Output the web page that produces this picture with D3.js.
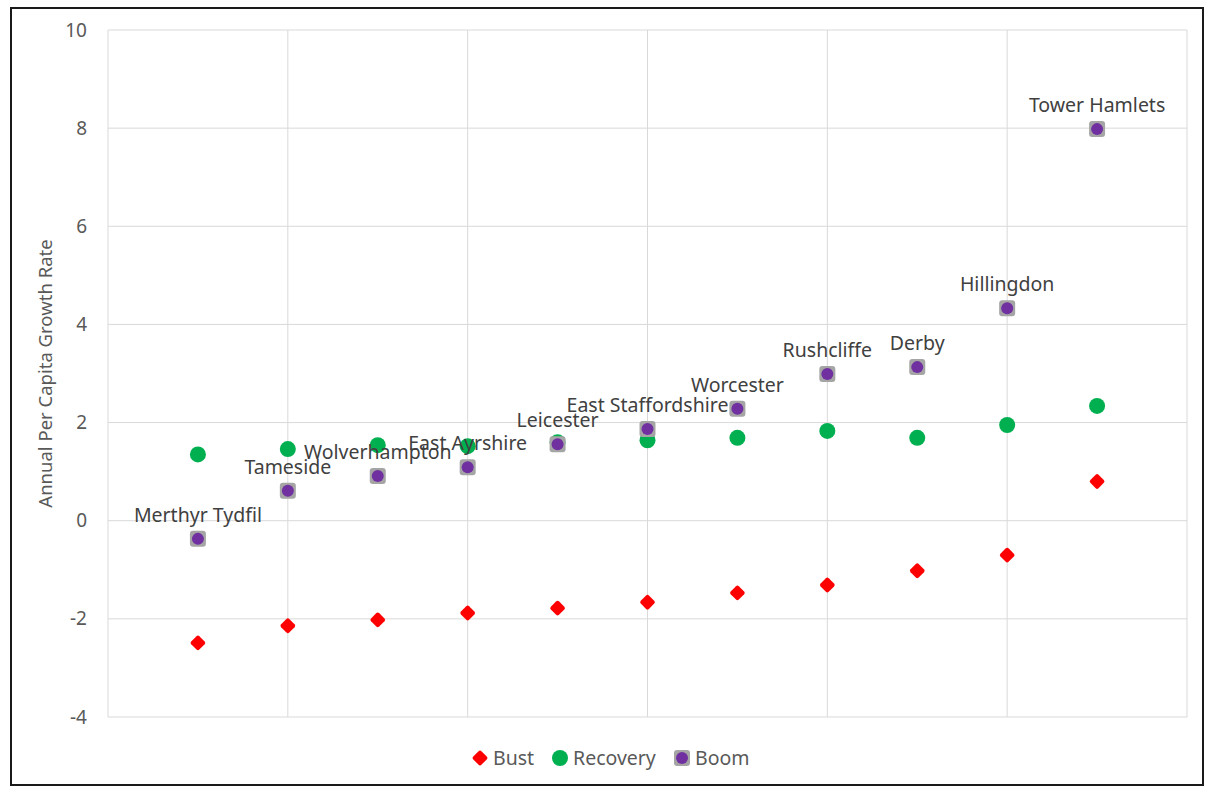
<!DOCTYPE html>
<html>
<head>
<meta charset="utf-8">
<script src="https://cdn.jsdelivr.net/npm/d3@7"></script>
<style>
  html, body { margin: 0; padding: 0; background: #fff; }
  svg { display: block; }
  text { font-family: "Noto Sans", "Open Sans", sans-serif; }
</style>
</head>
<body>
<svg id="chart" width="1208" height="787"></svg>
<script>
// Local authorities, ordered by Boom-period growth
const areas = ["Merthyr Tydfil", "Tameside", "Wolverhampton", "East Ayrshire", "Leicester",
  "East Staffordshire", "Worcester", "Rushcliffe", "Derby", "Hillingdon", "Tower Hamlets"];
const bust = [-2.49, -2.14, -2.02, -1.88, -1.78, -1.66, -1.47, -1.31, -1.02, -0.70, 0.80];
const recovery = [1.35, 1.46, 1.54, 1.52, 1.60, 1.64, 1.69, 1.83, 1.69, 1.95, 2.34];
const boom = [-0.37, 0.61, 0.91, 1.09, 1.56, 1.87, 2.28, 2.99, 3.13, 4.33, 7.98];
const yTicks = [-4, -2, 0, 2, 4, 6, 8, 10];
const xGrid = [0, 2, 4, 6, 8, 10, 12];
const seriesNames = ["Bust", "Recovery", "Boom"];

const svg = d3.select("#chart");

// outer frame
svg.append("rect").attr("x", 11).attr("y", 8).attr("width", 1192).attr("height", 777)
  .attr("fill", "#fff").attr("stroke", "#1a1a1a").attr("stroke-width", 2);

const x = d3.scaleLinear().domain([0, 12]).range([108, 1187]);
const y = d3.scaleLinear().domain([-4, 10]).range([717, 30]);

const grid = svg.append("g");
grid.selectAll("line.h").data(yTicks).join("line")
  .attr("x1", x(0)).attr("x2", x(12))
  .attr("y1", d => y(d)).attr("y2", d => y(d))
  .attr("stroke", "#d9d9d9").attr("stroke-width", 1);
grid.selectAll("line.v").data(xGrid).join("line")
  .attr("y1", y(-4)).attr("y2", y(10))
  .attr("x1", d => x(d)).attr("x2", d => x(d))
  .attr("stroke", "#d9d9d9").attr("stroke-width", 1);

// y axis labels (plain hyphen for negatives)
const yAxis = d3.axisLeft(y).tickValues(yTicks).tickSize(0).tickPadding(21)
  .tickFormat(d => String(d));
const ya = svg.append("g").attr("transform", `translate(${x(0)},0)`).call(yAxis);
ya.select(".domain").remove();
ya.selectAll("text").attr("font-size", 19).attr("fill", "#595959")
  .attr("font-family", "'Noto Sans', sans-serif");

svg.append("text")
  .attr("transform", `translate(52,${(y(-4) + y(10)) / 2}) rotate(-90)`)
  .attr("text-anchor", "middle").attr("font-size", 18.5).attr("fill", "#595959")
  .text("Annual Per Capita Growth Rate");

const idx = areas.map((_, i) => i + 1);

// marker drawers
function diamond(g) {
  g.append("rect").attr("x", -5.75).attr("y", -5.75).attr("width", 11.5).attr("height", 11.5)
    .attr("rx", 2).attr("transform", "rotate(45)").attr("fill", "#ff0000");
}
function dot(g) {
  g.append("circle").attr("r", 8).attr("fill", "#00b050");
}
function boomMark(g) {
  g.append("rect").attr("x", -8).attr("y", -8).attr("width", 16).attr("height", 16)
    .attr("rx", 3).attr("fill", "#a5a5a5");
  g.append("circle").attr("r", 6).attr("fill", "#7030a0");
}

const layers = [[bust, diamond], [recovery, dot], [boom, boomMark]];
layers.forEach(([vals, draw]) => {
  const g = svg.append("g");
  idx.forEach((xi, i) => {
    const m = g.append("g").attr("transform", `translate(${x(xi)},${y(vals[i])})`);
    draw(m);
  });
});

// data labels above Boom points
svg.append("g").selectAll("text").data(idx).join("text")
  .attr("x", d => x(d)).attr("y", (d, i) => y(boom[i]) - 17)
  .attr("text-anchor", "middle").attr("font-size", 19.5).attr("fill", "#404040")
  .text((d, i) => areas[i]);

// legend
const legendItems = [
  { name: seriesNames[0], draw: diamond, x: 480 },
  { name: seriesNames[1], draw: dot, x: 560 },
  { name: seriesNames[2], draw: boomMark, x: 682 }
];
legendItems.forEach(it => {
  const g = svg.append("g").attr("transform", `translate(${it.x},758)`);
  it.draw(g);
  g.append("text").attr("x", 13).attr("y", 7).attr("font-size", 19.5)
    .attr("fill", "#595959").text(it.name);
});
</script>
</body>
</html>
